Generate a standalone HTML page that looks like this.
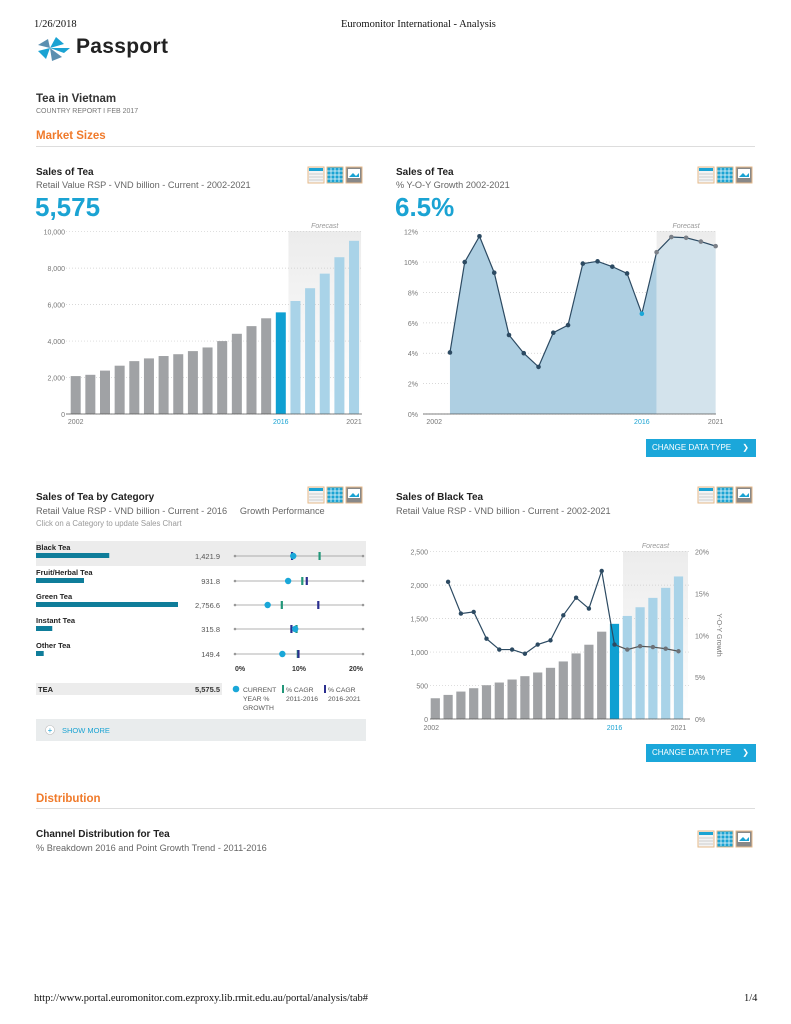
<!DOCTYPE html>
<html><head><meta charset="utf-8">
<style>
body{margin:0;width:791px;height:1024px;position:relative;background:#fff;font-family:"Liberation Sans",sans-serif;overflow:hidden}
.a{position:absolute;white-space:nowrap}
.serif{font-family:"Liberation Serif",serif;font-size:10.5px;color:#111}
.h{font-size:10px;font-weight:bold;color:#222}
.sub{font-size:9.2px;color:#666}
.sec{font-size:11.5px;font-weight:bold;color:#f07a2a}
.rule{position:absolute;height:1px;background:#ddd;left:36px;width:719px}
.big{font-size:26px;font-weight:bold;color:#1aa3d3}
.btn{position:absolute;background:#1ba7da;color:#fff;font-size:8px;line-height:18px;padding-left:6px;box-sizing:border-box;width:110px;height:18px}
svg text{font-family:"Liberation Sans",sans-serif}
</style></head><body>
<div class="a serif" style="left:34px;top:19px">1/26/2018</div>
<div class="a serif" style="left:341px;top:19px">Euromonitor International - Analysis</div>
<svg class="a" style="left:36px;top:35px" width="36" height="27">
<polygon points="2,10 12,4 14,13" fill="#5b8fb0"/><polygon points="14,13 20,2 28,9" fill="#1aa3d3"/><polygon points="14,13 34,13 28,18" fill="#1aa3d3"/><polygon points="2,16 14,13 10,24" fill="#1aa3d3"/><polygon points="14,13 26,22 16,26" fill="#5b8fb0"/></svg>
<div class="a" style="left:76px;top:35px;font-size:21px;font-weight:bold;color:#222;letter-spacing:0.3px">Passport</div>
<div class="a" style="left:36px;top:93px;font-size:11.5px;font-weight:bold;color:#333">Tea in Vietnam</div>
<div class="a" style="left:36px;top:108px;font-size:7px;color:#777">COUNTRY REPORT I FEB 2017</div>
<div class="a sec" style="left:36px;top:130px">Market Sizes</div>
<div class="rule" style="top:146px"></div>

<div class="a h" style="left:36px;top:167px">Sales of Tea</div>
<div class="a sub" style="left:36px;top:180px">Retail Value RSP - VND billion - Current - 2002-2021</div>
<div class="a big" style="left:35px;top:192px">5,575</div>
<div class="a h" style="left:396px;top:167px">Sales of Tea</div>
<div class="a sub" style="left:396px;top:180px">% Y-O-Y Growth 2002-2021</div>
<div class="a big" style="left:395px;top:192px">6.5%</div>

<div class="a h" style="left:36px;top:492px">Sales of Tea by Category</div>
<div class="a sub" style="left:36px;top:506px">Retail Value RSP - VND billion - Current - 2016 &nbsp;&nbsp;&nbsp; Growth Performance</div>
<div class="a" style="left:36px;top:519px;font-size:7.8px;color:#999">Click on a Category to update Sales Chart</div>
<div class="a h" style="left:396px;top:492px">Sales of Black Tea</div>
<div class="a sub" style="left:396px;top:506px">Retail Value RSP - VND billion - Current - 2002-2021</div>

<div class="btn" style="left:646px;top:439px">CHANGE DATA TYPE &nbsp;&nbsp;&nbsp;&nbsp;❯</div>
<div class="btn" style="left:646px;top:744px">CHANGE DATA TYPE &nbsp;&nbsp;&nbsp;&nbsp;❯</div>

<div class="a sec" style="left:36px;top:793px">Distribution</div>
<div class="rule" style="top:808px"></div>
<div class="a h" style="left:36px;top:829px">Channel Distribution for Tea</div>
<div class="a sub" style="left:36px;top:843px">% Breakdown 2016 and Point Growth Trend - 2011-2016</div>

<div class="a serif" style="left:34px;top:993px">http://www.portal.euromonitor.com.ezproxy.lib.rmit.edu.au/portal/analysis/tab#</div>
<div class="a serif" style="left:744px;top:993px">1/4</div>

<svg id="s" class="a" style="left:0;top:0" width="791" height="1024"></svg>

<script>
// Chart 1: Sales of Tea
const years = ['2002','2003','2004','2005','2006','2007','2008','2009','2010','2011','2012','2013','2014','2015','2016','2017','2018','2019','2020','2021'];
const salesValues = [2080,2150,2380,2650,2900,3050,3180,3280,3450,3650,4000,4400,4820,5250,5575,6200,6900,7700,8600,9500];
const salesTicks = [0,2000,4000,6000,8000,10000];
// Chart 2: growth 2003-2021
const growthValues = [4.05,10.0,11.7,9.3,5.2,4.0,3.1,5.35,5.85,9.9,10.05,9.7,9.25,6.6,10.65,11.65,11.6,11.35,11.05];
const growthTicks = [0,2,4,6,8,10,12];
// Chart 3: categories
const categories = ['Black Tea','Fruit/Herbal Tea','Green Tea','Instant Tea','Other Tea'];
const catValues = [1421.9,931.8,2756.6,315.8,149.4];
const catCurrent = [9.1,8.3,5.1,9.4,7.4];
const catCagr1116 = [13.2,10.5,7.3,9.6,9.8];
const catCagr1621 = [8.9,11.2,13.0,8.8,9.9];
// Chart 4: black tea
const blackValues = [310,360,410,460,505,545,590,640,695,765,860,980,1110,1305,1422,1540,1670,1810,1960,2130];
const blackGrowth = [16.4,12.6,12.8,9.6,8.3,8.3,7.8,8.9,9.4,12.4,14.5,13.2,17.7,8.9,8.3,8.7,8.6,8.4,8.1];
const blackTicks = [0,500,1000,1500,2000,2500];
const blackGrowthTicks = [0,5,10,15,20];

const S=document.getElementById('s'),NS='http://www.w3.org/2000/svg';
function mk(t,a,txt){const e=document.createElementNS(NS,t);for(const k in a)e.setAttribute(k,a[k]);if(txt!=null)e.textContent=txt;S.appendChild(e);return e;}
const fmt=v=>v.toLocaleString('en-US');

function icons(x,y,n){
 let e=mk('rect',{x:x,y:y,width:16,height:16,fill:'#f3f3f3',stroke:'#e6b98a'});
 
 
 mk('rect',{x:x+1,y:y+1,width:14,height:3,fill:'#1aa3d3'});
 for(let i=0;i<3;i++)mk('line',{x1:x+1,x2:x+15,y1:y+7+i*3,y2:y+7+i*3,stroke:'#bbb','stroke-width':0.7});
 e=mk('rect',{x:x+19,y:y,width:16,height:16,fill:'#1aa3d3',stroke:'#e6b98a'});
 
 
 for(let i=1;i<4;i++){mk('line',{x1:x+19+i*4,x2:x+19+i*4,y1:y+1,y2:y+15,stroke:'#fff','stroke-width':0.7});mk('line',{x1:x+19,x2:x+35,y1:y+i*4,y2:y+i*4,stroke:'#fff','stroke-width':0.7});}
 e=mk('rect',{x:x+38,y:y,width:16,height:16,fill:'#888',stroke:'#e6b98a'});
 
 
 mk('rect',{x:x+40,y:y+2,width:12,height:9,fill:'#fff'});
 mk('polygon',{points:`${x+41},${y+10} ${x+45},${y+6} ${x+48},${y+9} ${x+51},${y+6} ${x+51},${y+10}`,fill:'#1aa3d3'});
}
icons(308,167,'sales');icons(698,167,'growth');icons(308,487,'category');icons(698,487,'black');icons(698,831,'channel');

function forecastBox(x,w,y0,y1,n){
 const g=mk('linearGradient',{id:n+'g',x1:0,y1:0,x2:0,y2:1});
 g.innerHTML='<stop offset="0" stop-color="#ececec"/><stop offset="1" stop-color="#fff"/>';
 const r=mk('rect',{x:x,y:y0,width:w,height:y1-y0,fill:`url(#${n}g)`});
 
 
 const t=mk('text',{x:x+w/2,y:y0-3,'font-size':7,'font-style':'italic',fill:'#999','text-anchor':'middle'},'Forecast');
 
 
}

// ---- chart 1
{const X0=75.7,DX=14.65,Y0=414,Yk=182.3/10000;
 const xs=i=>X0+i*DX, ys=v=>Y0-v*Yk;
 forecastBox(xs(15)-7,xs(19)-xs(15)+14,231,414,'sales');
 salesTicks.forEach(t=>{mk('line',{x1:66,x2:362,y1:ys(t),y2:ys(t),stroke:'#ccc','stroke-dasharray':'1,2','stroke-width':0.7});
  const e=mk('text',{x:65,y:ys(t)+3,'font-size':7,fill:'#777','text-anchor':'end'},fmt(t));
  
  });
 salesValues.forEach((v,i)=>{const c=i<14?'#a0a2a5':i==14?'#0fa0d2':'#a9d3e8';
  const r=mk('rect',{x:xs(i)-5,y:ys(v),width:10,height:Y0-ys(v),fill:c});
  
  });
 mk('line',{x1:66,x2:362,y1:Y0,y2:Y0,stroke:'#555','stroke-width':0.8});
 [[0,'#777'],[14,'#1aa3d3'],[19,'#777']].forEach(([i,c])=>{const e=mk('text',{x:xs(i),y:424,'font-size':7,fill:c,'text-anchor':'middle'},years[i]);
  
  });
}
// ---- chart 2
{const X0=435.2,DX=14.76,Y0=414,Yk=182.3/12;
 const xs=i=>X0+i*DX, ys=v=>Y0-v*Yk;
 forecastBox(xs(15),xs(19)-xs(15),231,414,'growth');
 growthTicks.forEach(t=>{mk('line',{x1:423,x2:716,y1:ys(t),y2:ys(t),stroke:'#ccc','stroke-dasharray':'1,2','stroke-width':0.7});
  const e=mk('text',{x:418,y:ys(t)+3,'font-size':7,fill:'#777','text-anchor':'end'},t+'%');
  
  });
 const pts=growthValues.map((v,i)=>[xs(i+1),ys(v)]);
 const hist=pts.slice(0,15),fc=pts.slice(14);
 let a=mk('polygon',{points:`${hist[0][0]},${Y0} `+hist.map(p=>p.join(',')).join(' ')+` ${hist[14][0]},${Y0}`,fill:'#aecfe2'});
 
 
 a=mk('polygon',{points:`${fc[0][0]},${Y0} `+fc.map(p=>p.join(',')).join(' ')+` ${fc[fc.length-1][0]},${Y0}`,fill:'#d3e3ec'});
 
 
 const l=mk('polyline',{points:pts.map(p=>p.join(',')).join(' '),fill:'none',stroke:'#2c4a62','stroke-width':1.2});
 
 
 pts.forEach((p,i)=>{const c=i==13?'#1aa7d8':i>13?'#7b8088':'#2c4a62';
  const d=mk('circle',{cx:p[0],cy:p[1],r:2.3,fill:c});
  
  });
 mk('line',{x1:423,x2:716,y1:Y0,y2:Y0,stroke:'#555','stroke-width':0.8});
 [[0,'#777'],[14,'#1aa3d3'],[19,'#777']].forEach(([i,c])=>{const e=mk('text',{x:i==0?xs(0)-1:xs(i),y:424,'font-size':7,fill:c,'text-anchor':'middle'},years[i]);
  
  });
}
// ---- chart 3
{const rowY=[547,572,596,620,645],BX=36,Bk=142/2756.6,GX0=235,Gk=6.4;
 let r=mk('rect',{x:36,y:541,width:330,height:25,fill:'#ececec'});
 
 
 categories.forEach((c,i)=>{const y=rowY[i];
  let e=mk('text',{x:36,y:y+3,'font-size':7.5,'font-weight':'bold',fill:'#222'},c);
  
  
  e=mk('rect',{x:BX,y:y+6,width:Math.max(2,catValues[i]*Bk),height:5,fill:'#0f7d9a'});
  
  
  e=mk('text',{x:220,y:y+12,'font-size':7.5,fill:'#555','text-anchor':'end'},catValues[i].toLocaleString('en-US',{minimumFractionDigits:1}));
  
  
  mk('line',{x1:GX0,x2:GX0+128,y1:y+9,y2:y+9,stroke:'#999','stroke-width':0.8});
  mk('circle',{cx:GX0,cy:y+9,r:1.3,fill:'#999'});mk('circle',{cx:GX0+128,cy:y+9,r:1.3,fill:'#999'});
  e=mk('rect',{x:GX0+catCagr1116[i]*Gk-1,y:y+5,width:2.2,height:8,fill:'#23977a'});
  
  
  e=mk('rect',{x:GX0+catCagr1621[i]*Gk-1,y:y+5,width:2.2,height:8,fill:'#2b2f8f'});
  
  
  e=mk('circle',{cx:GX0+catCurrent[i]*Gk,cy:y+9,r:3.2,fill:'#1aa7d8'});
  
  
 });
 [[0,'0%'],[10,'10%'],[20,'20%']].forEach(([v,t],k)=>{const e=mk('text',{x:GX0+v*Gk,y:671,'font-size':7,'font-weight':'bold',fill:'#333','text-anchor':k==0?'start':k==2?'end':'middle'},t);
  
  });
 r=mk('rect',{x:36,y:683,width:186,height:12,fill:'#ececec'});
 
 
 mk('text',{x:38,y:692,'font-size':7.5,'font-weight':'bold',fill:'#222'},'TEA');
 mk('text',{x:220,y:692,'font-size':7.5,'font-weight':'bold',fill:'#333','text-anchor':'end'},'5,575.5');
 mk('circle',{cx:236,cy:689,r:3.3,fill:'#1aa7d8'});
 ['CURRENT','YEAR %','GROWTH'].forEach((t,k)=>mk('text',{x:243,y:692+k*9,'font-size':6.8,fill:'#555'},t));
 mk('rect',{x:282,y:685,width:2,height:8,fill:'#23977a'});
 ['% CAGR','2011-2016'].forEach((t,k)=>mk('text',{x:286,y:692+k*9,'font-size':6.8,fill:'#555'},t));
 mk('rect',{x:324,y:685,width:2,height:8,fill:'#2b2f8f'});
 ['% CAGR','2016-2021'].forEach((t,k)=>mk('text',{x:328,y:692+k*9,'font-size':6.8,fill:'#555'},t));
 r=mk('rect',{x:36,y:719,width:330,height:22,fill:'#e9eced'});
 
 
 mk('circle',{cx:50,cy:730,r:4.5,fill:'#fff',stroke:'#bbb','stroke-width':0.6});
 mk('text',{x:50,y:733,'font-size':8,fill:'#1aa3d3','text-anchor':'middle'},'+');
 mk('text',{x:62,y:733,'font-size':7.5,fill:'#1aa3d3'},'SHOW MORE');
}
// ---- chart 4
{const X0=435.3,DX=12.8,Y0=719,Yk=167.3/2500,Gk=167.3/20;
 const xs=i=>X0+i*DX, ys=v=>Y0-v*Yk, yg=v=>Y0-v*Gk;
 forecastBox(623,65,551,719,'black');
 blackTicks.forEach(t=>{mk('line',{x1:430,x2:690,y1:ys(t),y2:ys(t),stroke:'#ccc','stroke-dasharray':'1,2','stroke-width':0.7});
  const e=mk('text',{x:428,y:ys(t)+3,'font-size':7,fill:'#777','text-anchor':'end'},fmt(t));
  
  });
 blackGrowthTicks.forEach(t=>{const e=mk('text',{x:695,y:yg(t)+3,'font-size':7,fill:'#777'},t+'%');
  
  });
 const yt=mk('text',{x:717,y:635,'font-size':7,fill:'#777','text-anchor':'middle',transform:'rotate(90 717 635)'},'Y-O-Y Growth');
 
 
 blackValues.forEach((v,i)=>{const c=i<14?'#a0a2a5':i==14?'#0fa0d2':'#a9d3e8';
  const r=mk('rect',{x:xs(i)-4.6,y:ys(v),width:9.2,height:Y0-ys(v),fill:c});
  
  });
 const pts=blackGrowth.map((v,i)=>[xs(i+1),yg(v)]);
 let l=mk('polyline',{points:pts.slice(0,14).map(p=>p.join(',')).join(' '),fill:'none',stroke:'#2c4a62','stroke-width':1.2});
 
 
 l=mk('polyline',{points:pts.slice(13).map(p=>p.join(',')).join(' '),fill:'none',stroke:'#555','stroke-width':1.2});
 
 
 pts.forEach((p,i)=>{const d=mk('circle',{cx:p[0],cy:p[1],r:2.2,fill:i>13?'#6d7278':'#2c4a62'});
  
  });
 mk('line',{x1:430,x2:690,y1:Y0,y2:Y0,stroke:'#555','stroke-width':0.8});
 [[0,'#777'],[14,'#1aa3d3'],[19,'#777']].forEach(([i,c])=>{const e=mk('text',{x:i==0?xs(0)-4:xs(i),y:730,'font-size':7,fill:c,'text-anchor':'middle'},years[i]);
  
  });
}
</script>
</body></html>
